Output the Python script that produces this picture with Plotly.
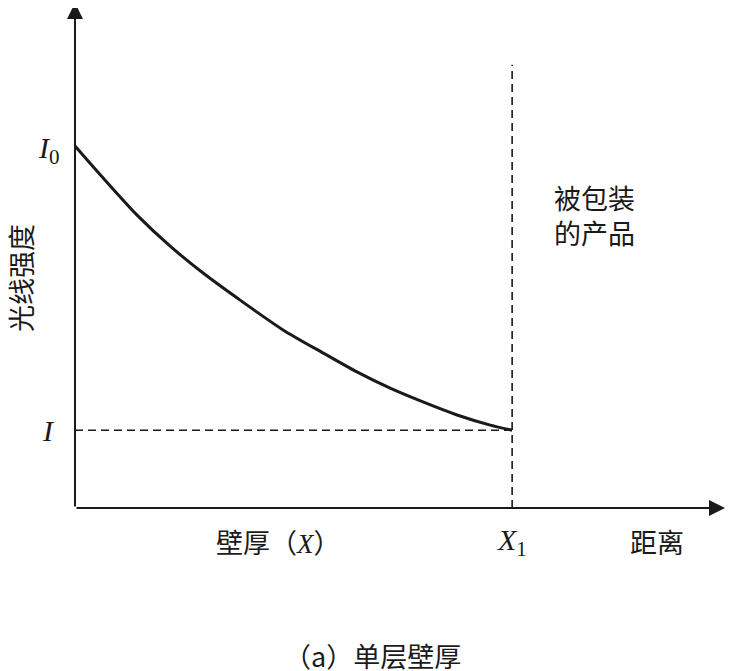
import plotly.graph_objects as go

# curve (x: wall thickness, X1 = 10; y: light intensity, I0 = 10)
thickness = [0, 0.64, 1.42, 2.17, 2.93, 3.71, 4.76, 5.68, 6.45, 7.21, 7.96, 8.74, 9.50, 10.0]
intensity = [10.0, 9.12, 8.09, 7.24, 6.49, 5.80, 4.92, 4.28, 3.76, 3.31, 2.93, 2.57, 2.29, 2.15]

X1 = 10.0
I_END = 2.15
WALL_TOP = 12.24
X_TIP = 14.87
Y_TIP = 13.95

CJK = "Noto Sans CJK SC"
SERIF = "Liberation Serif"
INK = "#1a1a1a"

fig = go.Figure()

# attenuation curve
fig.add_trace(go.Scatter(x=thickness, y=intensity, mode="lines",
                         line=dict(color=INK, width=3, shape="spline", smoothing=0.8),
                         hoverinfo="skip"))

# dashed guides: product wall and final intensity
fig.add_trace(go.Scatter(x=[X1, X1], y=[0, WALL_TOP], mode="lines",
                         line=dict(color=INK, width=1.6, dash="8px,5px"), hoverinfo="skip"))
fig.add_trace(go.Scatter(x=[0, X1], y=[I_END, I_END], mode="lines",
                         line=dict(color=INK, width=1.6, dash="8px,5px"), hoverinfo="skip"))

# axes with arrow heads
for tip in [(X_TIP, 0), (0, Y_TIP)]:
    fig.add_annotation(x=tip[0], y=tip[1], ax=0, ay=0, axref="x", ayref="y",
                       xref="x", yref="y", text="", showarrow=True,
                       arrowhead=2, arrowsize=1.6, arrowwidth=2, arrowcolor=INK)


def label(x, y, text, size=27, family=CJK, **kw):
    fig.add_annotation(x=x, y=y, xref="x", yref="y", text=text, showarrow=False,
                       font=dict(family=family, size=size, color=INK), **kw)


label(-0.6, 9.9, "<i>I</i><sub>0</sub>", size=30, family=SERIF)
label(-0.6, 2.15, "<i>I</i>", size=30, family=SERIF)
label(10.0, -0.95, "<i>X</i><sub>1</sub>", size=30, family=SERIF)
label(13.32, -0.91, "距离")
label(4.65, -0.91, "壁厚（<span style=\"font-family:Liberation Serif\"><i>X</i></span>）")
label(-1.26, 6.35, "光线强度", textangle=-90)
label(10.92, 8.09, "被包装<br>的产品", xanchor="left", align="left")
label(6.80, -4.06, "（a）单层壁厚")

# page body adds an 8px offset, so the figure is 8px smaller and ranges shifted
fig.update_layout(
    width=731, height=663,
    margin=dict(l=0, r=0, t=0, b=0),
    paper_bgcolor="white", plot_bgcolor="white",
    showlegend=False,
    xaxis=dict(range=[-1.533, 15.19], visible=False, fixedrange=True),
    yaxis=dict(range=[-4.50, 13.81], visible=False, fixedrange=True),
)

fig.write_html("out.html")
